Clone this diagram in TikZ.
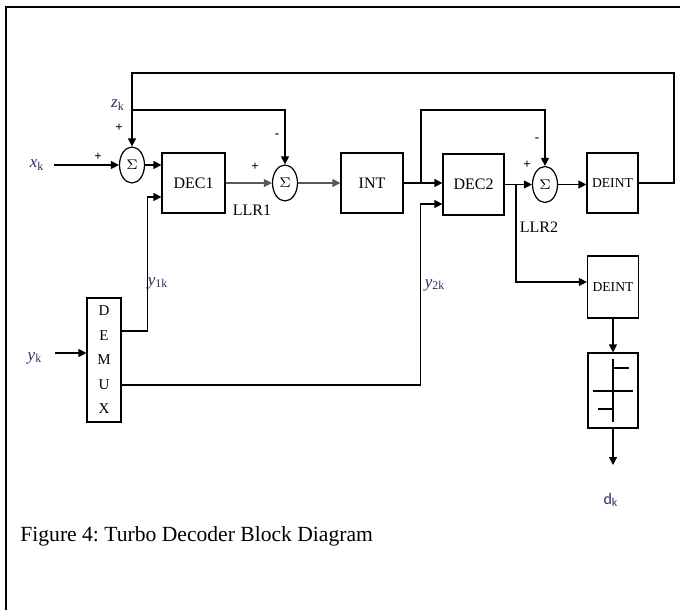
\documentclass[tikz,border=0pt]{standalone}
\usepackage{fontspec}
\setmainfont{Liberation Serif}
\newfontfamily\calib{Carlito}
\usetikzlibrary{arrows.meta,shapes.geometric,calc}
\definecolor{lab}{RGB}{45,45,95}
\frenchspacing
\begin{document}
\begin{tikzpicture}[x=0.5pt,y=-0.5pt,
  ln/.style={line width=0.6pt},
  arr/.style={ln,-{Triangle[length=4pt,width=4pt]}},
  box/.style={draw,ln,rectangle,inner sep=0pt},
  sumnode/.style={draw,ln,ellipse,minimum width=12.5pt,minimum height=18pt,inner sep=0pt,font=\fontsize{7}{8}\selectfont},
  sgn/.style={font=\fontsize{6.5}{7}\selectfont\bfseries,inner sep=0pt},
  lbl/.style={font=\fontsize{8.5}{9}\selectfont,inner sep=0pt,text=lab},
  blk/.style={font=\fontsize{8}{9}\selectfont},
  dbl/.style={font=\fontsize{6.8}{8}\selectfont},
]
\useasboundingbox (0,0) rectangle (680,610);
% frame
\draw[line width=0.75pt] (5,7) -- (680,7);
\draw[line width=1.2pt] (6,7) -- (6,610);

% blocks
\node[sumnode] (s1) at (132,165) {$\Sigma$};
\node[sumnode] (s2) at (285,183) {$\Sigma$};
\node[sumnode] (s3) at (545,184.5) {$\Sigma$};
\node[box,blk,minimum width=31.5pt,minimum height=30pt] (d1) at (193.5,183) {DEC1};
\node[box,blk,minimum width=31pt,minimum height=30pt] (int) at (372,183) {INT};
\node[box,blk,minimum width=30.5pt,minimum height=30.5pt] (d2) at (473.5,184.5) {DEC2};
\node[box,dbl,minimum width=25.5pt,minimum height=30pt] (di1) at (612.5,183) {DEINT};
\node[box,dbl,minimum width=25.5pt,minimum height=31pt] (di2) at (613,287) {DEINT};
\node[box,minimum width=25pt,minimum height=37.5pt] (sl) at (613,390.5) {};
\node[box,minimum width=17pt,minimum height=62pt,align=center,font=\fontsize{7.5}{12.25}\selectfont] (dm) at (104,360) {D\\E\\M\\U\\X};

% slicer symbol
\draw[ln] ($(sl.center)+(0,-31.5)$) -- ($(sl.center)+(0,31.5)$);
\draw[ln] ($(sl.center)+(0,-22.5)$) -- ($(sl.center)+(16,-22.5)$);
\draw[ln] ($(sl.center)+(-20,0.5)$) -- ($(sl.center)+(20,0.5)$);
\draw[ln] ($(sl.center)+(-15,18.5)$) -- ($(sl.center)+(0,18.5)$);

% labels
\node[lbl] (xk) at (37,165) {\textit{x}\textsubscript{k}};
\node[lbl] (yk) at (35,358) {\textit{y}\textsubscript{k}};
\node[lbl] (zk) at (118,105) {\textit{z}\textsubscript{k}};
\node[lbl] (y1k) at (158,283) {\textit{y}\textsubscript{1k}};
\node[lbl] (y2k) at (435,285) {\textit{y}\textsubscript{2k}};
\node[blk,inner sep=0pt] (llr1) at (252,210) {LLR1};
\node[blk,inner sep=0pt] (llr2) at (539,227) {LLR2};
\node[inner sep=0pt,font=\calib\fontsize{8}{9}\selectfont,text=lab] (dk) at (611,500) {d\textsubscript{k}};
\node[sgn] (p1) at (119,128) {+};
\node[sgn] (p2) at (98,157) {+};
\node[sgn] (p3) at (255,167) {+};
\node[sgn] (p4) at (527,165) {+};
\node[sgn] (m1) at (277,136) {-};
\node[sgn] (m2) at (537,140) {-};
\node[anchor=west,inner sep=0pt,font=\fontsize{10.8}{12}\selectfont] (cap) at (20,536) {Figure 4: Turbo Decoder Block Diagram};

% coordinates
\coordinate (xkin) at (54,165);
\coordinate (ykin) at (55,353);
\coordinate (j1) at (421,183);
\coordinate (j2) at (516,184.5);
\coordinate (j3) at (132,110);
\coordinate (dkend) at (613,465);

% connectors
\draw[arr] (xkin) -- (s1.west);
\draw[arr] (s1.east) -- (s1.east -| d1.west);
\draw[arr,draw=black!65] (d1.east) -- (s2.west);
\draw[arr,draw=black!65] (s2.east) -- (int.west);
\draw[arr] (int.east) -- (d2.west |- int.east);
\draw[arr] (j1) -- (421,110) -| (s3.north);
\draw[arr] (d2.east) -- (s3.west);
\draw[arr] (s3.east) -- (s3.east -| di1.west);
\draw[arr] (j2) |- ([yshift=2.5pt]di2.west);
\draw[arr] (di1.east) -| (674,73) -| (s1.north);
\draw[arr] (j3) -| (s2.north);
\draw[arr] ([yshift=14.5pt]dm.east) -| ([xshift=-7pt,yshift=-7pt]d1.west) -- ([yshift=-7pt]d1.west);
\draw[arr] ([yshift=-12.5pt]dm.east) -| ([xshift=-11pt,yshift=-9.75pt]d2.west) -- ([yshift=-9.75pt]d2.west);
\draw[arr] (ykin) -- ([yshift=3.5pt]dm.west);
\draw[arr] (di2.south) -- (sl.north);
\draw[arr] (sl.south) -- (dkend);
\end{tikzpicture}
\end{document}
